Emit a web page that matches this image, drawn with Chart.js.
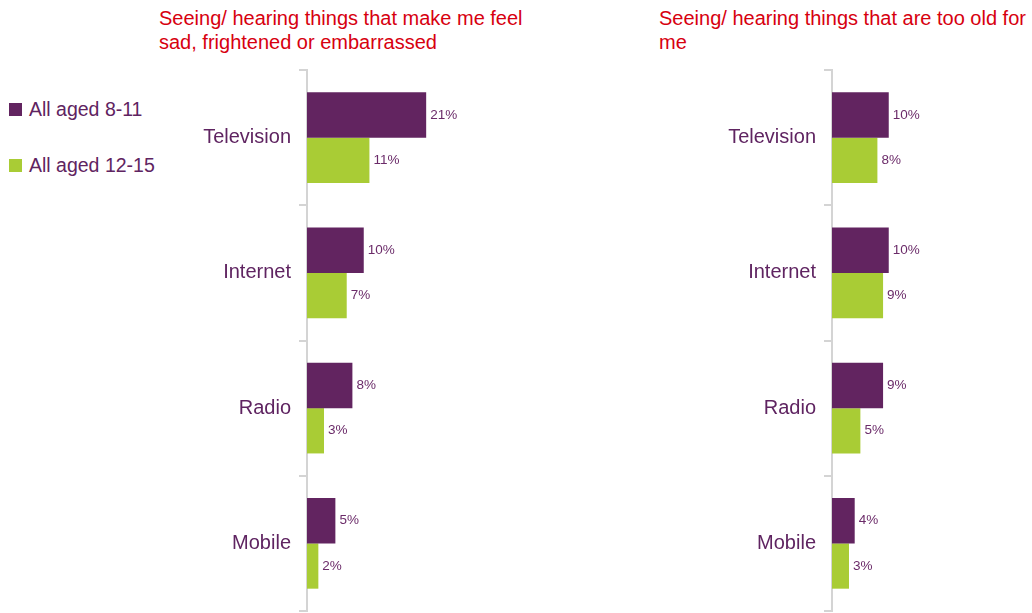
<!DOCTYPE html>
<html>
<head>
<meta charset="utf-8">
<script src="https://cdn.jsdelivr.net/npm/chart.js@4"></script>
<style>
  body { margin: 0; width: 1032px; height: 613px; background: #fff; position: relative; overflow: hidden;
         font-family: "Liberation Sans", Arial, sans-serif; }
  .title { position: absolute; color: #d7000f; font-size: 20px; line-height: 24px; white-space: nowrap; }
  .legend { position: absolute; left: 9px; color: #5f2461; font-size: 19.5px; white-space: nowrap; }
  .legend span { display: inline-block; width: 13px; height: 13px; margin-right: 7px; vertical-align: 0px; }
  .box { position: absolute; }
</style>
</head>
<body>

<div class="title" style="left:159px; top:6px;">Seeing/ hearing things that make me feel<br>sad, frightened or embarrassed</div>
<div class="title" style="left:659px; top:6px;">Seeing/ hearing things that are too old for<br>me</div>

<div class="legend" style="top:98px;"><span style="background:#622460"></span>All aged 8-11</div>
<div class="legend" style="top:154px;"><span style="background:#a9cc35"></span>All aged 12-15</div>

<div class="box" style="left:141px; top:50px; width:400px; height:581px;"><canvas id="chartLeft"></canvas></div>
<div class="box" style="left:666px; top:50px; width:400px; height:581px;"><canvas id="chartRight"></canvas></div>

<script>
// Enter your code below

var categories = ["Television", "Internet", "Radio", "Mobile"];
var seriesNames = ["All aged 8-11", "All aged 12-15"];

// Seeing/ hearing things that make me feel sad, frightened or embarrassed
var sadYounger = [21, 10, 8, 5];
var sadOlder = [11, 7, 3, 2];

// Seeing/ hearing things that are too old for me
var oldYounger = [10, 10, 9, 4];
var oldOlder = [8, 9, 5, 3];

var purple = '#622460';
var green = '#a9cc35';

// little plugin to write the % next to each bar
var valueLabels = {
  id: 'valueLabels',
  afterDatasetsDraw: function(chart) {
    var ctx = chart.ctx;
    ctx.save();
    ctx.font = '13.5px "Liberation Sans", Arial, sans-serif';
    ctx.fillStyle = '#6b2b69';
    ctx.textAlign = 'left';
    ctx.textBaseline = 'middle';
    chart.data.datasets.forEach(function(ds, i) {
      chart.getDatasetMeta(i).data.forEach(function(bar, j) {
        ctx.fillText(ds.data[j] + '%', bar.x + 4, bar.y);
      });
    });
    ctx.restore();
  }
};

function makeChart(id, younger, older, labelWidth) {
  return new Chart(document.getElementById(id), {
    type: 'bar',
    data: {
      labels: categories,
      datasets: [
        { label: seriesNames[0], data: younger, backgroundColor: purple },
        { label: seriesNames[1], data: older, backgroundColor: green }
      ]
    },
    options: {
      indexAxis: 'y',
      responsive: true,
      maintainAspectRatio: false,
      animation: false,
      layout: { padding: { top: 5, bottom: 0, right: 7 } },
      datasets: { bar: { categoryPercentage: 0.67, barPercentage: 1.0 } },
      plugins: {
        legend: { display: false },
        tooltip: { enabled: false }
      },
      scales: {
        x: {
          display: false,
          min: 0,
          max: 40
        },
        y: {
          afterFit: function(scale) { scale.width = labelWidth; },
          border: { color: '#d4d4d4', width: 2 },
          grid: {
            offset: true,
            drawOnChartArea: false,
            color: '#d4d4d4',
            lineWidth: 2,
            tickLength: 8
          },
          ticks: {
            color: '#5f2461',
            padding: 8,
            font: { family: '"Liberation Sans", Arial, sans-serif', size: 20 }
          }
        }
      }
    },
    plugins: [valueLabels]
  });
}

makeChart('chartLeft', sadYounger, sadOlder, 166);
makeChart('chartRight', oldYounger, oldOlder, 166);
</script>
</body>
</html>
